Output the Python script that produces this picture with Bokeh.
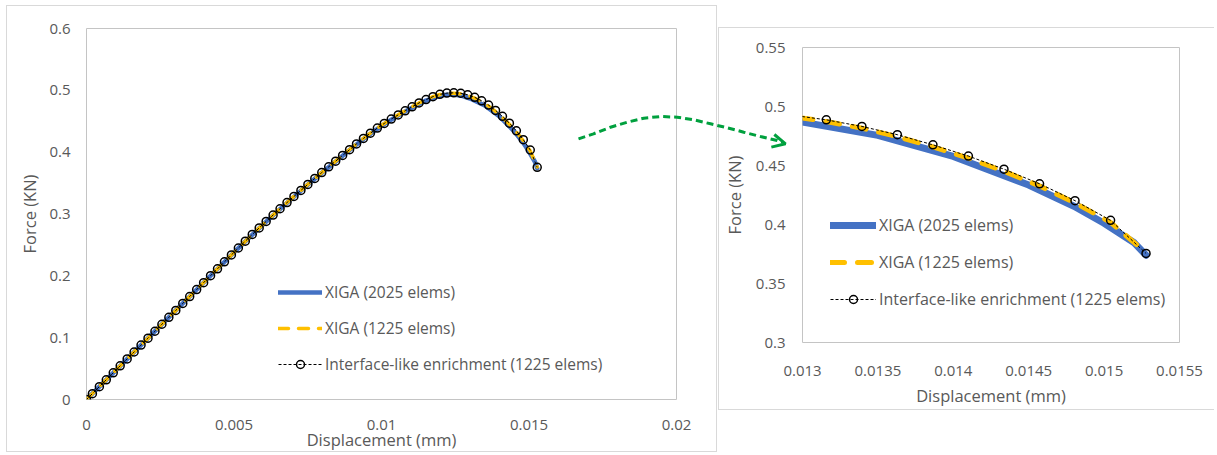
from bokeh.plotting import figure
from bokeh.layouts import row, column
from bokeh.models import (Arrow, OpenHead, FixedTicker, Spacer, Range1d, GridBox)
from bokeh.embed import file_html
from bokeh.resources import INLINE

# ---------------- data ----------------
# Interface-like enrichment (1225 elems) and XIGA (1225 elems) share displacement steps
disp_1225 = [0, 0.000200, 0.000436, 0.000671, 0.000907, 0.001142, 0.001378, 0.001614,
             0.001849, 0.002085, 0.002320, 0.002556, 0.002792, 0.003027, 0.003263,
             0.003498, 0.003734, 0.003970, 0.004205, 0.004441, 0.004676, 0.004912,
             0.005148, 0.005383, 0.005619, 0.005854, 0.006090, 0.006326, 0.006561,
             0.006797, 0.007032, 0.007268, 0.007504, 0.007739, 0.007975, 0.008210,
             0.008446, 0.008682, 0.008917, 0.009153, 0.009388, 0.009624, 0.009860,
             0.010095, 0.010331, 0.010566, 0.010802, 0.011038, 0.011273, 0.011509,
             0.011744, 0.011980, 0.012216, 0.012451, 0.012687, 0.012922, 0.013158,
             0.013394, 0.013629, 0.013865, 0.014100, 0.014336, 0.014572, 0.014807,
             0.015043, 0.015278]

force_interface = [0, 0.0095, 0.0208, 0.0319, 0.0432, 0.0544, 0.0656, 0.0768, 0.0880,
                   0.0992, 0.1104, 0.1217, 0.1329, 0.1441, 0.1553, 0.1665, 0.1777,
                   0.1890, 0.2002, 0.2114, 0.2226, 0.2338, 0.2450, 0.2560, 0.2669,
                   0.2775, 0.2880, 0.2983, 0.3085, 0.3185, 0.3284, 0.3382, 0.3479,
                   0.3575, 0.3670, 0.3763, 0.3855, 0.3948, 0.4040, 0.4133, 0.4222,
                   0.4307, 0.4389, 0.4465, 0.4536, 0.4603, 0.4669, 0.4733, 0.4796,
                   0.4850, 0.4898, 0.4935, 0.4955, 0.4960, 0.4953, 0.4928, 0.4887,
                   0.4831, 0.4761, 0.4675, 0.4580, 0.4469, 0.4345, 0.4202, 0.4035,
                   0.3755]

force_xiga_1225 = [0, 0.0095, 0.0208, 0.0319, 0.0432, 0.0544, 0.0656, 0.0768, 0.0880,
                   0.0992, 0.1104, 0.1217, 0.1329, 0.1441, 0.1553, 0.1665, 0.1777,
                   0.1890, 0.2002, 0.2114, 0.2226, 0.2338, 0.2450, 0.2560, 0.2669,
                   0.2775, 0.2880, 0.2983, 0.3085, 0.3185, 0.3284, 0.3382, 0.3479,
                   0.3575, 0.3670, 0.3763, 0.3855, 0.3948, 0.4040, 0.4133, 0.4222,
                   0.4307, 0.4389, 0.4465, 0.4536, 0.4603, 0.4669, 0.4733, 0.4796,
                   0.4850, 0.4898, 0.4932, 0.4950, 0.4953, 0.4944, 0.4916, 0.4873,
                   0.4816, 0.4745, 0.4658, 0.4562, 0.4451, 0.4327, 0.4184, 0.4018,
                   0.3762]

# XIGA (2025 elems)
disp_2025 = [0, 0.001, 0.002, 0.003, 0.004, 0.005, 0.0055, 0.006, 0.0065, 0.007, 0.0075,
             0.008, 0.0085, 0.009, 0.0095, 0.010, 0.0105, 0.011, 0.0115, 0.012, 0.01225,
             0.0125, 0.01275, 0.013, 0.0135, 0.014, 0.0145, 0.0148, 0.0150, 0.0152,
             0.015278]
force_xiga_2025 = [0, 0.0476, 0.0952, 0.1428, 0.1904, 0.2378, 0.2610, 0.2835, 0.3054,
                   0.3265, 0.3472, 0.3674, 0.3870, 0.4066, 0.4254, 0.4425, 0.4575,
                   0.4712, 0.4835, 0.4915, 0.4930, 0.4927, 0.4906, 0.4868, 0.4755,
                   0.4577, 0.4335, 0.4155, 0.4010, 0.3845, 0.3740]

labels = ["XIGA (2025 elems)", "XIGA (1225 elems)", "Interface-like enrichment (1225 elems)"]

# axes ticks
left_xticks = [0, 0.005, 0.01, 0.015, 0.02]
left_xlabels = ["0", "0.005", "0.01", "0.015", "0.02"]
left_yticks = [0, 0.1, 0.2, 0.3, 0.4, 0.5, 0.6]
left_ylabels = ["0", "0.1", "0.2", "0.3", "0.4", "0.5", "0.6"]
right_xticks = [0.013, 0.0135, 0.014, 0.0145, 0.015, 0.0155]
right_xlabels = ["0.013", "0.0135", "0.014", "0.0145", "0.015", "0.0155"]
right_yticks = [0.3, 0.35, 0.4, 0.45, 0.5, 0.55]
right_ylabels = ["0.3", "0.35", "0.4", "0.45", "0.5", "0.55"]

# decorative zoom arrow drawn on a transparent page-wide overlay (page pixels)
arrow_px_x = [578, 593, 610, 626.7, 643.3, 660, 676.7, 693.3, 710, 726.7, 743.3, 760,
              776.7, 782]
arrow_px_y = [138.3, 133.3, 126.7, 121.7, 117.7, 116, 116.7, 119.3, 123.3, 127.3, 131.7,
              136, 140, 141.8]
arrow_head_px = (771, 140, 785, 143.3)

# ---------------- style ----------------
FONT = "Open Sans"
TXT = "#595959"
BLUE = "#4472C4"
YELLOW = "#FFC000"
GREEN = "#00A03E"
FRAME = "#c4c4c4"
BORDER_CLR = "#d9d9d9"


def panel(width, height, xr, yr, borders, xt, xl, yt, yl, s):
    p = figure(width=width, height=height, output_backend="svg", toolbar_location=None,
               x_range=Range1d(*xr), y_range=Range1d(*yr),
               min_border_left=borders[0], min_border_right=borders[1],
               min_border_top=borders[2], min_border_bottom=borders[3],
               background_fill_color="white", border_fill_color="white")
    p.outline_line_color = FRAME
    p.outline_line_width = 1
    p.xgrid.visible = False
    p.ygrid.visible = False
    for ax in (p.xaxis[0], p.yaxis[0]):
        ax.axis_line_color = None
        ax.major_tick_line_color = None
        ax.minor_tick_line_color = None
        ax.major_tick_out = 0
        ax.major_tick_in = 0
        ax.major_label_text_font = FONT
        ax.major_label_text_font_size = s["tick"]
        ax.major_label_text_color = TXT
        ax.axis_label_text_font = FONT
        ax.axis_label_text_font_size = s["title"]
        ax.axis_label_text_color = TXT
        ax.axis_label_text_font_style = "normal"
    p.xaxis.ticker = FixedTicker(ticks=xt)
    p.xaxis.major_label_overrides = dict(zip(xt, xl))
    p.yaxis.ticker = FixedTicker(ticks=yt)
    p.yaxis.major_label_overrides = dict(zip(yt, yl))
    p.xaxis.axis_label = "Displacement (mm)"
    p.yaxis.axis_label = "Force (KN)"
    p.xaxis.major_label_standoff = s["xstand"]
    p.xaxis.axis_label_standoff = s["xtitle"]
    p.yaxis.major_label_standoff = s["ystand"]
    p.yaxis.axis_label_standoff = s["ytitle"]

    p.line(disp_2025, force_xiga_2025, line_color=BLUE, line_width=s["blue"],
           line_cap="round", line_join="round", legend_label=labels[0])
    p.line(disp_1225, force_xiga_1225, line_color=YELLOW, line_width=s["yellow"],
           line_dash=s["ydash"], line_cap="round", legend_label=labels[1])
    p.line(disp_1225, force_interface, line_color="black", line_width=1,
           line_dash="3 2", legend_label=labels[2])
    p.scatter(disp_1225, force_interface, marker="circle", size=8, fill_color=None,
              line_color="black", line_width=1.5, legend_label=labels[2])

    lg = p.legend[0]
    lg.location = s["legloc"]
    lg.border_line_color = None
    lg.background_fill_alpha = 0
    lg.padding = 0
    lg.margin = 0
    lg.spacing = s["legspace"]
    lg.glyph_width = s["glyphw"]
    lg.glyph_height = 20
    lg.label_height = 20
    lg.label_standoff = 3
    lg.label_text_font = FONT
    lg.label_text_font_size = s["leg"]
    lg.label_text_color = TXT
    return p


left = panel(711, 447, (0, 0.02), (0, 0.6), (79, 42, 22, 54),
             left_xticks, left_xlabels, left_yticks, left_ylabels,
             dict(tick="15px", title="16.5px", leg="15.5px", xstand=20, xtitle=-5,
                  ystand=16, ytitle=5, blue=4.5, yellow=3.5, ydash="10 10",
                  legloc=(192, 24), legspace=14, glyphw=44))
left.styles = {"border": "1px solid " + BORDER_CLR}

right = panel(496, 383, (0.013, 0.0155), (0.3, 0.55), (81, 36, 19, 69),
              right_xticks, right_xlabels, right_yticks, right_ylabels,
              dict(tick="15px", title="16.5px", leg="16px", xstand=23, xtitle=5,
                   ystand=17, ytitle=7, blue=7, yellow=5, ydash="14 13",
                   legloc=(28, 32), legspace=15, glyphw=46))
right.styles = {"border-top": "1px solid " + BORDER_CLR,
                "border-left": "1px solid " + BORDER_CLR,
                "border-bottom": "1px solid " + BORDER_CLR}

main = column(Spacer(width=1217, height=5),
              row(Spacer(width=6, height=10), left, Spacer(width=1, height=10),
                  column(Spacer(width=10, height=22), right)))

# transparent overlay for the zoom arrow that crosses both panels
ov = figure(width=1217, height=455, output_backend="svg", toolbar_location=None,
            x_range=Range1d(0, 1217), y_range=Range1d(455, 0),
            x_axis_type=None, y_axis_type=None, min_border=0,
            background_fill_alpha=0, border_fill_alpha=0)
ov.outline_line_color = None
ov.xgrid.visible = False
ov.ygrid.visible = False
ov.line(arrow_px_x, arrow_px_y, line_color=GREEN, line_width=3, line_dash="7 4")
ov.add_layout(Arrow(end=OpenHead(size=13, line_color=GREEN, line_width=3),
                    x_start=arrow_head_px[0], y_start=arrow_head_px[1],
                    x_end=arrow_head_px[2], y_end=arrow_head_px[3], line_alpha=0))

page = GridBox(children=[(main, 0, 0), (ov, 0, 0)])

open("out.html", "w").write(file_html(page, INLINE))
